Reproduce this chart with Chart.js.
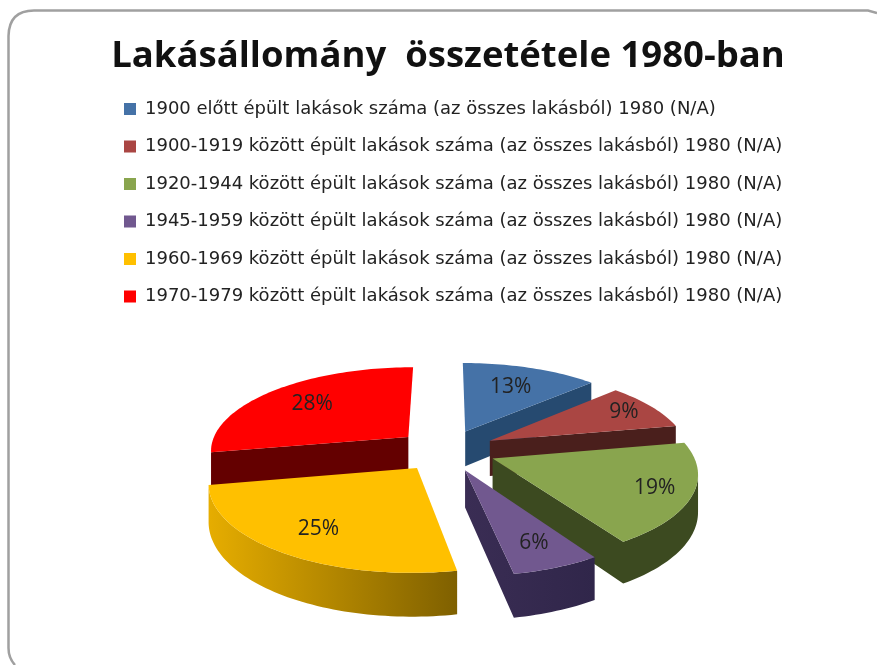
<!DOCTYPE html>
<html><head><meta charset="utf-8">
<style>html,body{margin:0;padding:0;background:#fff}canvas{display:block}</style>
<script src="https://cdn.jsdelivr.net/npm/chart.js@4/dist/chart.umd.js"></script>
</head><body><canvas id="c" width="877" height="665"></canvas>
<script>
const chartTitle = 'Lakásállomány  összetétele 1980-ban';
const categories = [
 '1900 előtt épült lakások száma (az összes lakásból) 1980 (N/A)',
 '1900-1919 között épült lakások száma (az összes lakásból) 1980 (N/A)',
 '1920-1944 között épült lakások száma (az összes lakásból) 1980 (N/A)',
 '1945-1959 között épült lakások száma (az összes lakásból) 1980 (N/A)',
 '1960-1969 között épült lakások száma (az összes lakásból) 1980 (N/A)',
 '1970-1979 között épült lakások száma (az összes lakásból) 1980 (N/A)'
];
const values = [13, 9, 19, 6, 25, 28];
const topColors = ['#4572A7','#AA4643','#89A54E','#71588F','#FFC000','#FF0000'];
const wallColorsA = ['#264A70','#4A1F1C','#3C4A20','#3A2D54','#E6AD00','#640000'];
const wallColorsB = ['#264A70','#4A1F1C','#3C4A20','#30264A','#7F6000','#640000'];
const labelRadial = [0.67, 0.825, 0.82, 0.78, 0.75, 0.70];
const paintOrder = [5, 0, 1, 2, 4, 3];

const depth = 1350, tilt = 0.42, wallH = 36, pieShift = -2;

const project = (arc, X, Z, Y) => {
  const s = 1 / (1 - Z / depth);
  return [arc.x + pieShift + X * s, arc.y + (Z * tilt + Y) * s];
};
function outline(arc) {
  const e = arc.options.offset, R = arc.outerRadius;
  const mid = (arc.startAngle + arc.endAngle) / 2;
  const ox = Math.cos(mid) * e, oz = Math.sin(mid) * e;
  const pts = [[ox, oz]];
  const n = Math.max(8, Math.ceil((arc.endAngle - arc.startAngle) * 40));
  for (let i = 0; i <= n; i++) {
    const a = arc.startAngle + (arc.endAngle - arc.startAngle) * i / n;
    pts.push([ox + Math.cos(a) * R, oz + Math.sin(a) * R]);
  }
  return pts;
}
function poly(ctx, p) {
  ctx.beginPath();
  p.forEach((q, i) => i ? ctx.lineTo(q[0], q[1]) : ctx.moveTo(q[0], q[1]));
  ctx.closePath();
}
const pie3d = {
  id: 'pie3d',
  beforeDraw(chart) {
    const ctx = chart.ctx;
    ctx.save();
    ctx.strokeStyle = '#A0A0A0';
    ctx.lineWidth = 2.5;
    ctx.beginPath();
    ctx.moveTo(15, 665);
    ctx.quadraticCurveTo(8.5, 658, 8.5, 648);
    ctx.lineTo(8.5, 36);
    ctx.quadraticCurveTo(9, 10.5, 34, 10.5);
    ctx.lineTo(868, 10.5);
    ctx.lineTo(877, 13);
    ctx.stroke();
    ctx.restore();
  },
  beforeDatasetDraw(chart, args) {
    const ctx = chart.ctx, arcs = chart.getDatasetMeta(args.index).data;
    ctx.save();
    paintOrder.forEach(i => {
      const arc = arcs[i], pts = outline(arc);
      const top = pts.map(p => project(arc, p[0], p[1], 0));
      const low = pts.map(p => project(arc, p[0], p[1], wallH));
      const xs = top.map(p => p[0]);
      const grad = ctx.createLinearGradient(Math.min(...xs), 0, Math.max(...xs), 0);
      grad.addColorStop(0, wallColorsA[i]);
      grad.addColorStop(1, wallColorsB[i]);
      ctx.fillStyle = grad;
      const N = top.length;
      let run = [];
      const flush = () => {
        if (run.length > 1) {
          poly(ctx, run.map(j => top[j]).concat(run.slice().reverse().map(j => low[j])));
          ctx.fill();
        }
        run = [];
      };
      for (let j = 0; j < N; j++) {
        const k = (j + 1) % N;
        const radial = j === 0 || k === 0;
        if (top[k][0] < top[j][0] - (radial ? 8 : 0)) {
          if (!run.length) run.push(j);
          run.push(k);
        } else flush();
      }
      flush();
      poly(ctx, top);
      ctx.fillStyle = topColors[i];
      ctx.fill();
    });
    ctx.restore();
    return false;
  },
  afterDatasetsDraw(chart) {
    const ctx = chart.ctx, arcs = chart.getDatasetMeta(0).data;
    ctx.save();
    ctx.font = '21px "Open Sans"';
    ctx.fillStyle = '#222';
    ctx.textAlign = 'center';
    ctx.textBaseline = 'middle';
    arcs.forEach((arc, i) => {
      const mid = (arc.startAngle + arc.endAngle) / 2;
      const r = arc.options.offset + labelRadial[i] * arc.outerRadius;
      const p = project(arc, Math.cos(mid) * r, Math.sin(mid) * r, 0);
      ctx.fillText(values[i] + '%', p[0], p[1]);
    });
    ctx.restore();
  }
};
new Chart(document.getElementById('c'), {
  type: 'pie',
  data: { labels: categories, datasets: [{ data: values, backgroundColor: topColors, borderWidth: 0, offset: 50 }] },
  plugins: [pie3d],
  options: {
    responsive: false, animation: false, radius: 199,
    layout: { padding: { left: 104.5, right: 85.5, top: 0, bottom: 80.4 } },
    plugins: {
      tooltip: { enabled: false },
      title: { display: true, text: chartTitle, color: '#111',
        font: { family: '"Open Sans"', size: 36.5, weight: 'bold' },
        padding: { top: 35, bottom: 1.7 } },
      legend: { position: 'top', align: 'start',
        labels: { boxWidth: 12, boxHeight: 12, padding: 19.5, color: '#222',
          font: { family: '"DejaVu Sans"', size: 18 } } }
    }
  }
});
</script></body></html>
